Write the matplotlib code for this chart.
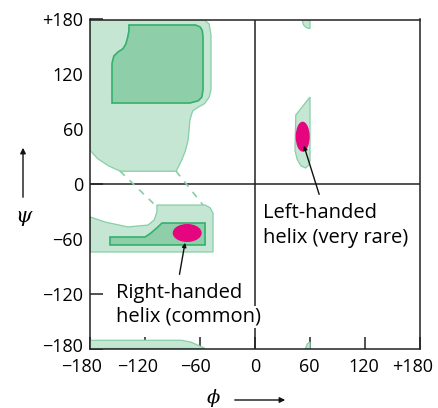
import matplotlib
matplotlib.use('Agg')
import matplotlib.pyplot as plt
import matplotlib.transforms as mtransforms
from matplotlib.patches import Polygon, Ellipse

plt.rcParams['font.family'] = ['Open Sans', 'DejaVu Sans']

# allowed regions (phi, psi)
beta_outer = [(-180, 180), (-55.6, 180), (-50, 175), (-48, 163), (-48, 103), (-50, 95), (-55, 88),
              (-62, 84), (-68, 80), (-71, 70), (-72, 58), (-73, 48), (-76, 36), (-80, 26), (-86, 14),
              (-147, 14), (-160, 20), (-172, 28), (-180, 37)]
beta_inner = [(-137.5, 174), (-65, 174), (-60, 172), (-57.5, 168), (-56.7, 161), (-56.7, 103), (-58, 95),
              (-62, 91), (-71, 88.6), (-156, 88.6), (-156, 132), (-154, 140), (-149.5, 144.5),
              (-144, 148), (-141, 153), (-139, 160), (-137.5, 168)]
alpha_outer = [(-180, -36), (-163.6, -41.6), (-138.5, -47), (-116.7, -44.9), (-110, -39.4), (-107, -30.6),
               (-107, -23), (-54.5, -23), (-49, -26), (-45.8, -31.7), (-45.8, -74.4), (-180, -74.4)]
alpha_inner = [(-158.2, -58), (-120, -58), (-114, -54), (-107, -48), (-101.5, -42.7), (-54.5, -42.7),
               (-54.5, -66.7), (-158.2, -66.7)]
bottom_band = [(-180, -180), (-180, -171), (-80, -171), (-70, -173), (-62, -176.5), (-54.5, -180)]
left_outer = [(60, 95.2), (44.5, 75.5), (43.6, 37), (46, 27), (50, 20), (55, 17.5), (59, 21), (60, 26)]
left_top = [(51.3, 180), (60, 180), (60, 170), (56, 171), (53, 174)]
left_bottom = [(55, -180), (60, -180), (60, -173), (57, -175)]
dashes = [((-147.3, 14.2), (-109.1, -23)), ((-86.2, 14.2), (-56.7, -23))]

# helix spots: center, width, height
right_helix = ((-74, -53.6), 31.6, 19.7)
left_helix = ((52, 51.8), 15.3, 32.8)

ticks = [-180, -120, -60, 0, 60, 120, 180]
xlabels = ['\u2212180', '\u2212120', '\u221260', '0', '60', '120', '+180']
ylabels = ['\u2212180', '\u2212120', '\u221260', '0', '60', '120', '+180']
xlabel_shift = [-8, -7, -5, 0, -1, -1, -7]  # px, labels sit a bit left of their ticks

light = '#c6e6d4'
dark = '#8ecfa9'
edge = '#35b06d'
edge_light = '#86cfa6'
magenta = '#e5067f'

W, H = 438, 408
fig = plt.figure(figsize=(W / 100, H / 100), dpi=100)
ax = fig.add_axes([90 / W, 1 - 348.5 / H, 330 / W, 329 / H])
ax.set_xlim(-180, 180); ax.set_ylim(-180, 180)

for poly in [beta_outer, alpha_outer, bottom_band, left_outer, left_top, left_bottom]:
    ax.add_patch(Polygon(poly, closed=True, fc=light, ec=edge_light, lw=0.9, zorder=2))
for poly in [beta_inner, alpha_inner]:
    ax.add_patch(Polygon(poly, closed=True, fc=dark, ec=edge, lw=1.2, zorder=3))
for (a, b) in dashes:
    ax.plot([a[0], b[0]], [a[1], b[1]], color=edge_light, lw=1.2, ls=(0, (4, 4)), zorder=2)
for c, w, h in [right_helix, left_helix]:
    ax.add_patch(Ellipse(c, w, h, fc=magenta, ec='none', zorder=4))

ax.axhline(0, color='#222222', lw=1.1, zorder=1)
ax.axvline(0, color='#222222', lw=1.1, zorder=1)
for s in ax.spines.values():
    s.set_color('#222222'); s.set_linewidth(1.1)

ax.set_xticks(ticks); ax.set_xticklabels(xlabels)
ax.set_yticks(ticks); ax.set_yticklabels(ylabels)
ax.tick_params(direction='in', length=9, width=1.1, color='#222222', labelsize=13, pad=5)
ax.tick_params(axis='x', pad=6.5)
for lab, dx in zip(ax.get_xticklabels(), xlabel_shift):
    lab.set_transform(lab.get_transform() + mtransforms.ScaledTranslation(dx / 100, 0, fig.dpi_scale_trans))
ylab0 = ax.get_yticklabels()[0]
ylab0.set_transform(ylab0.get_transform() + mtransforms.ScaledTranslation(0, 3 / 100, fig.dpi_scale_trans))

# annotations
ax.annotate('', xy=(-75.8, -61.3), xytext=(-82.9, -101.8),
            arrowprops=dict(arrowstyle='-|>', color='#111111', lw=1.0, mutation_scale=6), zorder=5)
ax.annotate('', xy=(52.4, 44.9), xytext=(70.9, -14.2),
            arrowprops=dict(arrowstyle='-|>', color='#111111', lw=1.0, mutation_scale=6), zorder=5)
ax.text(-151.6, -119.3, 'Right-handed', fontsize=14.5, va='center', ha='left', zorder=6)
ax.text(-151.6, -145.5, 'helix (common)', fontsize=14.5, va='center', ha='left', zorder=6,
        bbox=dict(fc='white', ec='none', pad=0.5))
ax.text(8.7, -31.7, 'Left-handed', fontsize=14.5, va='center', ha='left', zorder=6)
ax.text(8.7, -59, 'helix (very rare)', fontsize=14.5, va='center', ha='left', zorder=6)

# axis labels with arrows
fig.text(23 / W, 1 - 217 / H, '\u03c8', fontsize=15, family='DejaVu Serif', style='italic',
         ha='center', va='center')
fig.text(213 / W, 1 - 398 / H, '\u03d5', fontsize=14, family='DejaVu Serif', style='italic',
         ha='center', va='center')
ax.annotate('', xy=(23, H - 145), xytext=(23, H - 200), xycoords='figure pixels', textcoords='figure pixels',
            arrowprops=dict(arrowstyle='-|>', color='#111111', lw=1.0, mutation_scale=8))
ax.annotate('', xy=(288, H - 400), xytext=(232, H - 400), xycoords='figure pixels', textcoords='figure pixels',
            arrowprops=dict(arrowstyle='-|>', color='#111111', lw=1.0, mutation_scale=8))

fig.savefig('out.png', dpi=100)
